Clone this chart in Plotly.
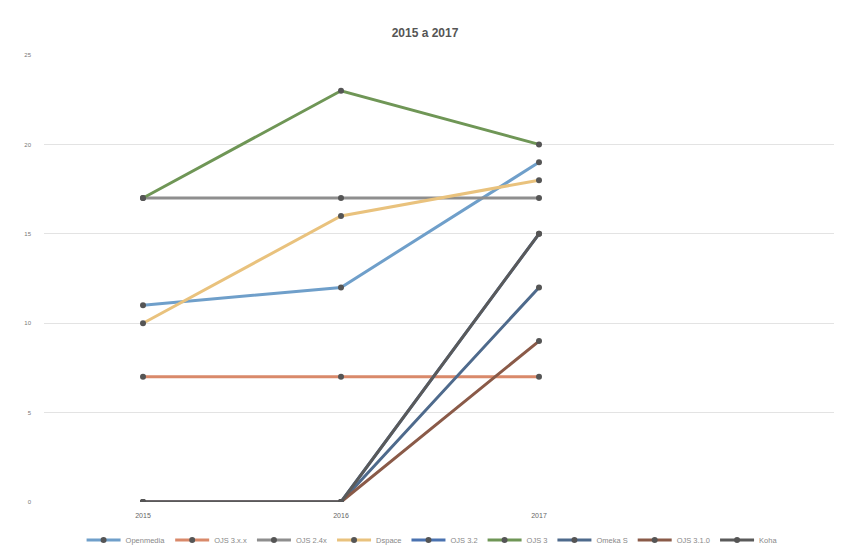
import plotly.graph_objects as go

years = [2015, 2016, 2017]
tick_labels = ["2015", "2016", "2017"]
y_ticks = [0, 5, 10, 15, 20, 25]

# legend names are illegible in the reference; approximations
names = ["Openmedia", "OJS 3.x.x", "OJS 2.4x", "Dspace", "OJS 3.2",
         "OJS 3", "Omeka S", "OJS 3.1.0", "Koha"]

s1 = [11, 12, 19]
s2 = [7, 7, 7]
s3 = [17, 17, 17]
s4 = [10, 16, 18]
s5 = [0, 0, 15]
s6 = [17, 23, 20]
s7 = [0, 0, 12]
s8 = [0, 0, 9]
s9 = [0, 0, 15]
series = [s1, s2, s3, s4, s5, s6, s7, s8, s9]

colors = ["#6f9fca", "#d9896a", "#8e8e8e", "#e9c27d", "#4a72b0",
          "#6f9656", "#4e6a8c", "#8a5a48", "#5a5a5a"]

fig = go.Figure()
for name, vals, col in zip(names, series, colors):
    fig.add_trace(go.Scatter(
        x=years, y=vals, name=name, mode="lines+markers",
        line=dict(color=col, width=3),
        marker=dict(color="#555555", size=6, symbol="circle"),
    ))

fig.update_layout(
    width=834, height=543,
    paper_bgcolor="white", plot_bgcolor="white",
    margin=dict(l=36, r=6, t=47, b=49, autoexpand=False),
    title=dict(text="<b>2015 a 2017</b>", x=0.5, xanchor="center",
               y=0.954, yanchor="middle",
               font=dict(family="Liberation Sans", size=12, color="#555555")),
    font=dict(family="Liberation Sans", size=7, color="#777777"),
    showlegend=True,
    legend=dict(orientation="h", x=0.49, xanchor="center", y=-0.085,
                yanchor="middle", font=dict(size=7.5, color="#888888"),
                itemwidth=34, tracegroupgap=0),
)
fig.update_xaxes(range=[2014.5, 2018.5], tickvals=years, ticktext=tick_labels,
                 showgrid=False, zeroline=False, showline=False, automargin=False,
                 ticks="", ticklabelstandoff=8, tickfont=dict(size=7, color="#666666"))
fig.update_yaxes(range=[0, 25], tickvals=y_ticks, showgrid=True,
                 gridcolor="#e3e3e3", gridwidth=1, zeroline=False,
                 showline=False, ticks="", ticklabelstandoff=12, automargin=False,
                 tickfont=dict(size=6, color="#777777"))

fig.write_html("out.html")
